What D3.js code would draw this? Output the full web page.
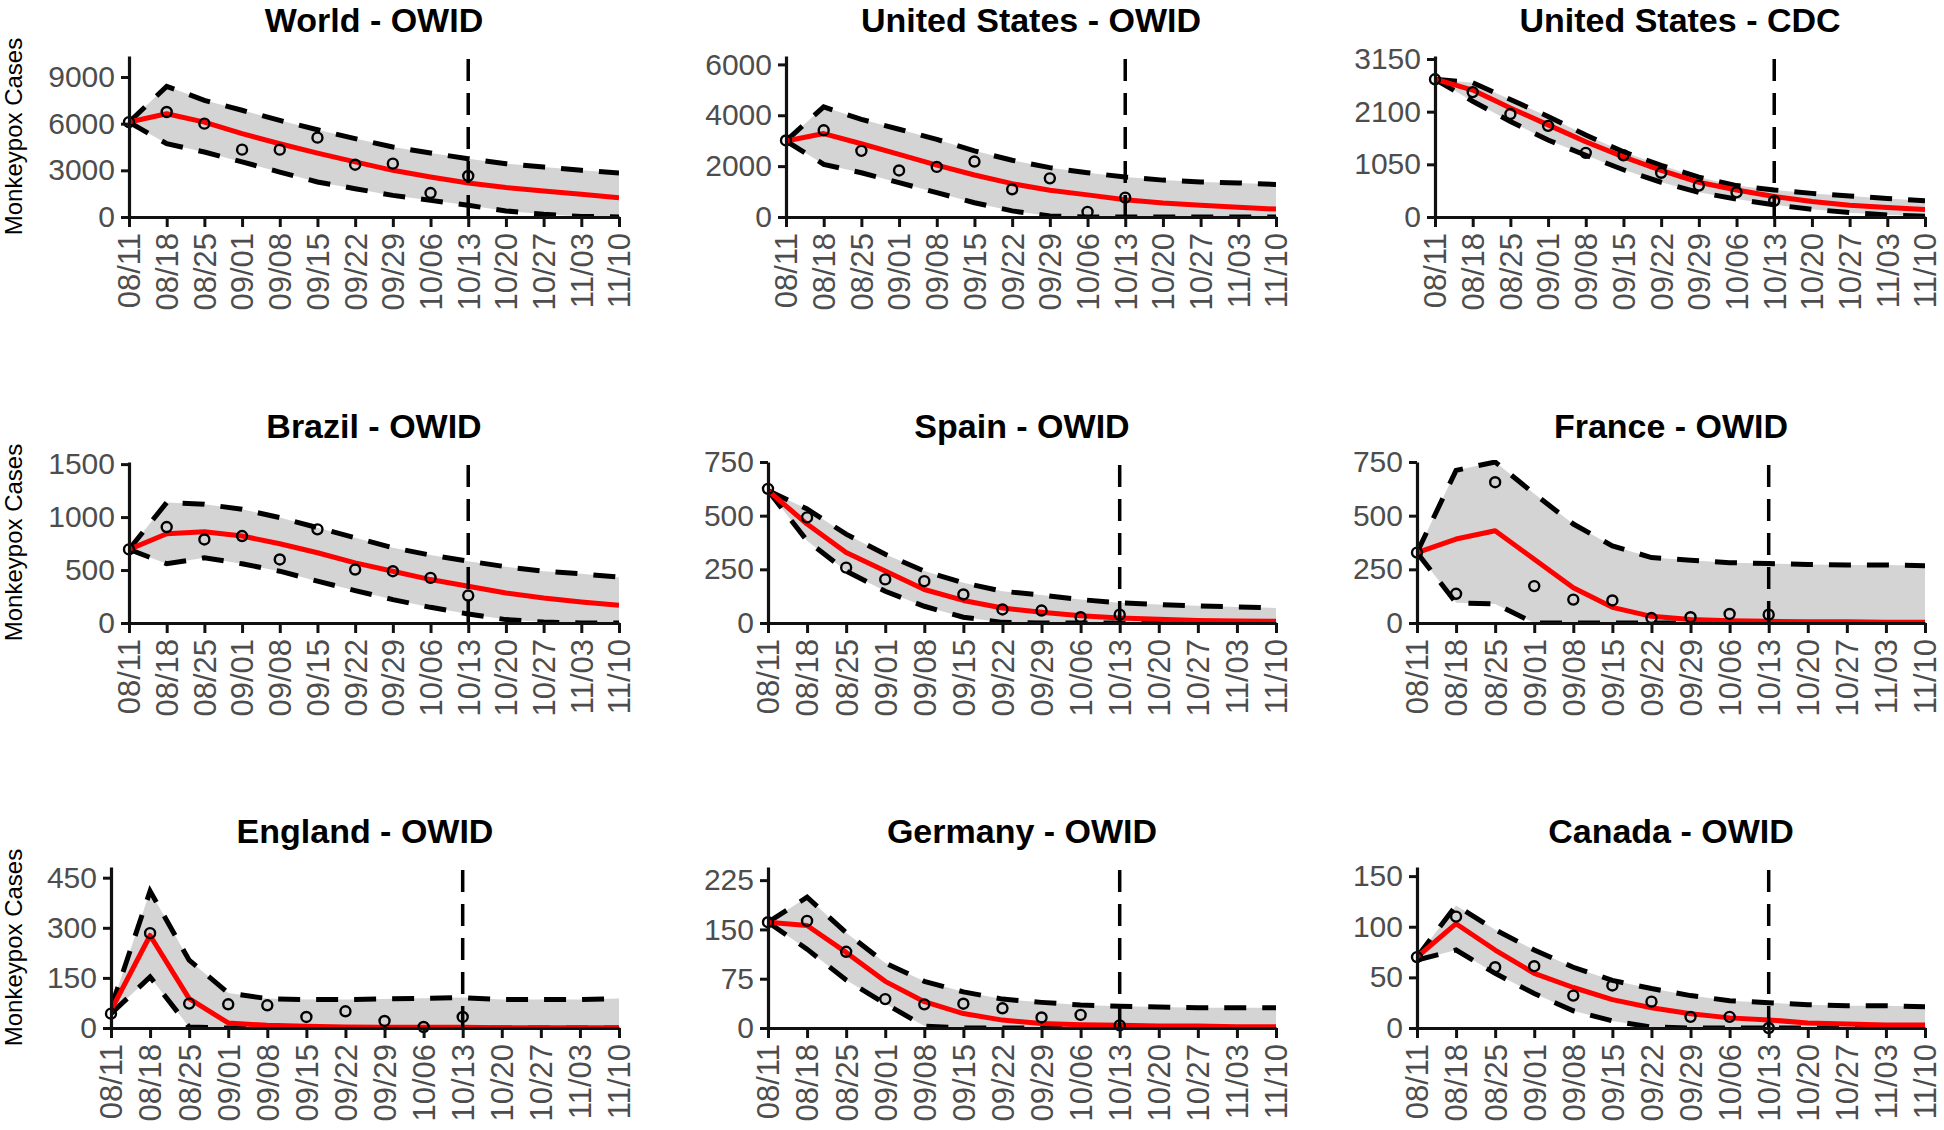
<!DOCTYPE html>
<html>
<head>
<meta charset="utf-8">
<script src="https://cdnjs.cloudflare.com/ajax/libs/d3/7.8.5/d3.min.js"></script>
<style>
  body { margin: 0; background: #fff; }
  svg { display: block; font-family: "Liberation Sans", Arial, sans-serif; }
</style>
</head>
<body>
<div id="chart-area"></div>
<script>

//**************** Data *****************//

let weeks = ['08/11', '08/18', '08/25', '09/01', '09/08', '09/15', '09/22',
	'09/29', '10/06', '10/13', '10/20', '10/27', '11/03', '11/10'];
let forecastStart = '10/13';

let titles = ['World - OWID', 'United States - OWID', 'United States - CDC',
	'Brazil - OWID', 'Spain - OWID', 'France - OWID',
	'England - OWID', 'Germany - OWID', 'Canada - OWID'];

let yTicks = [
	[0, 3000, 6000, 9000], [0, 2000, 4000, 6000], [0, 1050, 2100, 3150],
	[0, 500, 1000, 1500], [0, 250, 500, 750], [0, 250, 500, 750],
	[0, 150, 300, 450], [0, 75, 150, 225], [0, 50, 100, 150]
];
let yMax = [10350, 6330, 3210, 1520, 750, 750, 482, 245, 159];

// observed weekly cases (08/11 - 10/13)
let worldObs   = [6100, 6750, 6000, 4330, 4330, 5100, 3360, 3430, 1540, 2640];
let usOwidObs  = [3010, 3410, 2600, 1830, 1970, 2180, 1090, 1520, 200, 760];
let usCdcObs   = [2746, 2490, 2053, 1817, 1279, 1231, 882, 626, 491, 323];
let brazilObs  = [695, 906, 789, 821, 600, 884, 505, 489, 426, 259];
let spainObs   = [625, 492, 258, 203, 195, 133, 63, 58, 27, 39];
let franceObs  = [328, 136, 656, 172, 109, 105, 23, 27, 42, 39];
let englandObs = [43, 284, 73, 71, 68, 33, 50, 21, 3, 33];
let germanyObs = [161, 163, 116, 44, 36, 37, 30, 16, 20, 4];
let canadaObs  = [70, 110, 60, 61, 32, 42, 26, 11, 11, 0];

// model fit / forecast (08/11 - 11/10)
let worldFit   = [6100, 6640, 6100, 5360, 4710, 4110, 3540, 3000, 2570, 2190, 1890, 1670, 1460, 1240];
let usOwidFit  = [2990, 3280, 2880, 2460, 2040, 1650, 1310, 1050, 870, 680, 550, 460, 380, 310];
let usCdcFit   = [2746, 2530, 2174, 1837, 1500, 1198, 929, 693, 538, 410, 310, 235, 188, 148];
let brazilFit  = [695, 843, 862, 821, 748, 663, 568, 489, 410, 347, 284, 237, 199, 167];
let spainFit   = [617, 461, 328, 242, 156, 105, 70, 50, 34, 23, 17, 12, 9, 8];
let franceFit  = [328, 391, 430, 297, 164, 73, 31, 16, 11, 8, 6, 6, 4, 3];
let englandFit = [53, 277, 88, 15, 8, 5, 3, 2, 2, 2, 1, 1, 1, 1];
let germanyFit = [161, 156, 115, 71, 40, 22, 12, 7, 5, 4, 3, 3, 2, 2];
let canadaFit  = [70, 103, 77, 54, 40, 28, 20, 14, 10, 8, 5, 4, 3, 3];

// upper bounds
let worldHi   = [6100, 8400, 7500, 6860, 6210, 5610, 5040, 4500, 4110, 3750, 3430, 3210, 3000, 2830];
let usOwidHi  = [2990, 4330, 3840, 3450, 3050, 2600, 2230, 1940, 1740, 1570, 1450, 1380, 1340, 1280];
let usCdcHi   = [2746, 2678, 2342, 2005, 1635, 1299, 1030, 794, 626, 538, 471, 417, 370, 323];
let brazilHi  = [695, 1137, 1121, 1074, 995, 900, 805, 711, 641, 584, 531, 489, 464, 433];
let spainHi   = [617, 531, 414, 320, 242, 187, 148, 130, 109, 94, 86, 80, 75, 70];
let franceHi  = [328, 711, 750, 602, 461, 359, 305, 292, 281, 277, 273, 270, 270, 267];
let englandHi = [60, 410, 203, 105, 88, 85, 85, 87, 89, 91, 85, 85, 85, 88];
let germanyHi = [161, 199, 145, 99, 71, 55, 44, 39, 35, 33, 32, 31, 31, 31];
let canadaHi  = [70, 121, 97, 77, 60, 47, 39, 32, 27, 25, 23, 22, 22, 21];

// lower bounds
let worldLo   = [6100, 4710, 4180, 3540, 2890, 2250, 1820, 1390, 1070, 750, 390, 170, 40, 0];
let usOwidLo  = [2990, 2070, 1740, 1350, 960, 560, 240, 40, 0, 0, 0, 0, 0, 0];
let usCdcLo   = [2746, 2308, 1904, 1534, 1231, 942, 693, 491, 357, 242, 155, 87, 40, 13];
let brazilLo  = [695, 559, 616, 559, 489, 395, 306, 221, 148, 85, 32, 9, 0, 0];
let spainLo   = [617, 383, 242, 148, 78, 27, 3, 0, 0, 0, 0, 0, 0, 0];
let franceLo  = [328, 94, 89, 0, 0, 0, 0, 0, 0, 0, 0, 0, 0, 0];
let englandLo = [43, 153, 3, 0, 0, 0, 0, 0, 0, 0, 0, 0, 0, 0];
let germanyLo = [161, 120, 73, 37, 3, 0, 0, 0, 0, 0, 0, 0, 0, 0];
let canadaLo  = [67, 77, 54, 34, 17, 7, 1, 0, 0, 0, 0, 0, 0, 0];

let observed = [worldObs, usOwidObs, usCdcObs, brazilObs, spainObs, franceObs, englandObs, germanyObs, canadaObs];
let fitted   = [worldFit, usOwidFit, usCdcFit, brazilFit, spainFit, franceFit, englandFit, germanyFit, canadaFit];
let upper    = [worldHi, usOwidHi, usCdcHi, brazilHi, spainHi, franceHi, englandHi, germanyHi, canadaHi];
let lower    = [worldLo, usOwidLo, usCdcLo, brazilLo, spainLo, franceLo, englandLo, germanyLo, canadaLo];


//**************** Canvas *****************//

let W = 1944, H = 1130;
let colRight = [619, 1276, 1925];
let rowTop = [56, 462, 867];
let plotH = 161;

let svg = d3.select('#chart-area').append('svg')
	.attr('width', W)
	.attr('height', H);


//**************** Panels *****************//

titles.forEach((title, i) => {
	let col = i % 3, row = Math.floor(i / 3);
	let digits = String(d3.max(yTicks[i])).length;
	let right = colRight[col];
	let left = right - (digits >= 4 ? 490 : 508);
	let top = rowTop[row], bottom = top + plotH;

	let x = d3.scalePoint()
		.domain(weeks)
		.range([left, right]);

	let y = d3.scaleLinear()
		.domain([0, yMax[i]])
		.range([bottom, top]);

	let g = svg.append('g').attr('class', 'panel');

	let clipId = 'clip' + i;
	g.append('clipPath').attr('id', clipId)
		.append('rect')
		.attr('x', left).attr('y', top - 2)
		.attr('width', right - left).attr('height', plotH + 2);

	let plot = g.append('g').attr('clip-path', 'url(#' + clipId + ')');

	let rows = weeks.map((w, k) => ({ w: w, lo: lower[i][k], hi: upper[i][k], fit: fitted[i][k] }));

	// uncertainty band
	plot.append('path')
		.datum(rows)
		.attr('fill', '#d4d4d4')
		.attr('d', d3.area()
			.x(d => x(d.w))
			.y0(d => y(d.lo))
			.y1(d => y(d.hi)));

	// dashed bounds
	[d => d.hi, d => d.lo].forEach(acc => {
		plot.append('path')
			.datum(rows)
			.attr('fill', 'none')
			.attr('stroke', '#000')
			.attr('stroke-width', 5)
			.attr('stroke-dasharray', '22,16')
			.attr('d', d3.line().x(d => x(d.w)).y(d => y(acc(d))));
	});

	// fitted line
	plot.append('path')
		.datum(rows)
		.attr('fill', 'none')
		.attr('stroke', '#ff0000')
		.attr('stroke-width', 5)
		.attr('stroke-linejoin', 'round')
		.attr('d', d3.line().x(d => x(d.w)).y(d => y(d.fit)));

	// observed points
	g.selectAll('circle.obs')
		.data(observed[i])
		.enter().append('circle')
			.attr('class', 'obs')
			.attr('cx', (d, k) => x(weeks[k]))
			.attr('cy', d => y(d))
			.attr('r', 5)
			.attr('fill', 'none')
			.attr('stroke', '#000')
			.attr('stroke-width', 2.4);

	// forecast start marker
	g.append('line')
		.attr('x1', x(forecastStart)).attr('x2', x(forecastStart))
		.attr('y1', bottom).attr('y2', top)
		.attr('stroke', '#000')
		.attr('stroke-width', 3.5)
		.attr('stroke-dasharray', '22,12');

	// axes
	let xAxis = g.append('g')
		.attr('transform', 'translate(0,' + bottom + ')')
		.call(d3.axisBottom(x).tickSize(10).tickSizeOuter(0));
	xAxis.selectAll('text')
		.attr('transform', 'rotate(-90)')
		.attr('text-anchor', 'end')
		.attr('x', -16)
		.attr('y', 0)
		.attr('dy', '0.35em');

	let yAxis = g.append('g')
		.attr('transform', 'translate(' + left + ',0)')
		.call(d3.axisLeft(y).tickValues(yTicks[i]).tickSize(8).tickSizeOuter(0)
			.tickFormat(d3.format('d')));
	yAxis.selectAll('text').attr('x', -14);

	[xAxis, yAxis].forEach(a => {
		a.select('.domain').attr('stroke', '#111').attr('stroke-width', 3.2);
		a.selectAll('.tick line').attr('stroke', '#111').attr('stroke-width', 3);
		a.selectAll('.tick text')
			.attr('fill', '#4d4d4d')
			.attr('font-size', a === xAxis ? 31 : 30)
			.attr('font-family', '"Liberation Sans", Arial, sans-serif');
	});

	// title
	g.append('text')
		.attr('x', (left + right) / 2)
		.attr('y', top - 24)
		.attr('text-anchor', 'middle')
		.attr('font-size', 34)
		.attr('font-weight', 'bold')
		.attr('fill', '#000')
		.text(title);

	// y label on the first column
	if (col === 0) {
		g.append('text')
			.attr('transform', 'translate(22,' + (top + plotH / 2) + ') rotate(-90)')
			.attr('text-anchor', 'middle')
			.attr('font-size', 24)
			.attr('fill', '#000')
			.text('Monkeypox Cases');
	}
});

</script>
</body>
</html>
